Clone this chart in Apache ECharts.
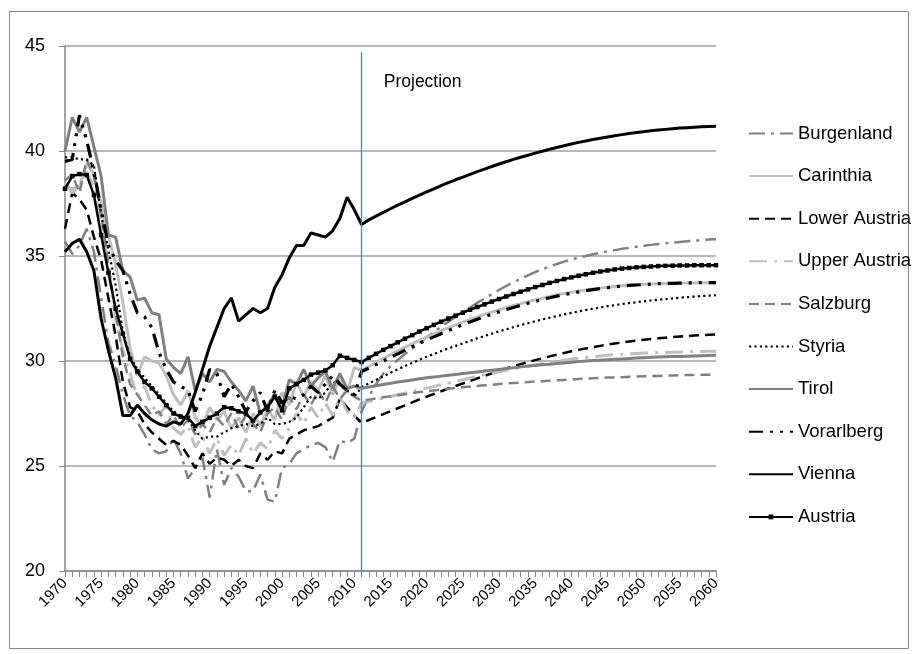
<!DOCTYPE html>
<html>
<head>
<meta charset="utf-8">
<script src="https://cdn.jsdelivr.net/npm/echarts@6/dist/echarts.min.js"></script>
<style>
html,body{margin:0;padding:0;background:#fff;}
#chart{width:916px;height:654px;}
</style>
</head>
<body>
<div id="chart"></div>
<script>
const years = Array.from({length: 91}, (_, i) => String(1970 + i));
const yTicks = [20, 25, 30, 35, 40, 45];
const projectionYear = '2011';
const projectionLabel = 'Projection';

const burgenlandHist = [35.7,35.1,35.5,36.3,35.2,33.0,30.9,29.8,28.4,27.4, 27.1,26.5,25.8,25.6,25.7,26.3,25.6,24.4,24.9,25.4, 23.5,25.8,24.1,24.9,24.5,23.8,23.8,24.6,23.4,23.3, 24.9,25.1,25.6,25.8,26.0,26.1,25.9,25.2,26.2,26.1, 26.3,27.6];
const burgenlandProj = [28.3,28.9,29.4,29.75,30.05,30.33,30.6,30.87,31.13,31.38, 31.63,31.87,32.1,32.33,32.55,32.77,32.98,33.18,33.38,33.57, 33.75,33.92,34.08,34.23,34.37,34.5,34.62,34.73,34.83,34.92, 35.0,35.08,35.15,35.22,35.28,35.34,35.39,35.44,35.49,35.53, 35.57,35.61,35.64,35.67,35.7,35.73,35.75,35.78,35.8];

const carinthiaHist = [38.3,38.2,38.3,39.4,38.9,37.5,36.0,34.6,32.8,30.6, 29.3,30.2,30.0,29.9,29.3,28.4,27.9,28.6,27.3,26.9, 27.8,27.2,27.6,26.8,27.3,26.6,27.5,26.9,27.7,27.2, 28.5,27.9,29.0,28.3,29.0,28.6,29.3,28.4,29.2,28.5, 29.7,29.55];
const carinthiaProj = [29.74,29.93,30.12,30.3,30.48,30.65,30.82,30.98,31.14,31.29, 31.44,31.58,31.72,31.85,31.98,32.1,32.22,32.33,32.44,32.54, 32.64,32.73,32.82,32.91,32.99,33.07,33.14,33.21,33.27,33.33, 33.38,33.43,33.47,33.51,33.55,33.58,33.61,33.63,33.65,33.67, 33.68,33.69,33.7,33.71,33.72,33.72,33.73,33.73,33.73];

const lowerAustriaHist = [36.3,38.0,37.7,37.2,35.9,34.8,33.0,31.2,29.0,27.8, 27.6,27.0,26.6,26.3,26.0,26.2,26.0,25.5,24.9,25.6, 25.1,25.4,25.3,25.0,25.3,25.0,24.9,25.6,25.3,25.7, 25.6,26.3,26.5,26.7,26.8,26.9,27.1,27.3,28.2,27.8, 27.4,27.05];
const lowerAustriaProj = [27.19,27.33,27.47,27.61,27.75,27.89,28.03,28.17,28.3,28.43, 28.56,28.69,28.81,28.93,29.05,29.17,29.29,29.41,29.53,29.65, 29.75,29.85,29.95,30.04,30.13,30.22,30.3,30.38,30.46,30.53, 30.6,30.66,30.72,30.78,30.83,30.88,30.93,30.97,31.01,31.05, 31.08,31.11,31.14,31.17,31.19,31.21,31.23,31.25,31.27];

const upperAustriaHist = [38.5,38.0,38.3,39.0,38.3,36.5,34.5,32.0,30.5,29.4, 28.3,28.8,27.9,27.4,27.9,26.8,26.5,26.9,25.9,26.4, 25.6,26.3,25.5,26.0,25.5,26.3,25.6,26.1,25.8,26.7, 26.3,26.8,27.5,27.0,27.8,27.3,28.0,27.4,28.3,27.6, 27.3,28.0];
const upperAustriaProj = [28.07,28.15,28.23,28.31,28.39,28.47,28.55,28.63,28.71,28.79, 28.87,28.95,29.03,29.11,29.19,29.27,29.35,29.42,29.49,29.56, 29.63,29.7,29.76,29.82,29.88,29.94,29.99,30.04,30.09,30.13, 30.17,30.21,30.24,30.27,30.3,30.32,30.34,30.36,30.38,30.39, 30.4,30.41,30.42,30.43,30.44,30.45,30.45,30.46,30.46];

const salzburgHist = [38.6,38.9,38.0,39.6,38.8,37.0,34.6,32.3,30.2,28.9, 28.4,27.9,27.4,27.6,27.0,27.4,26.8,27.2,26.5,27.0, 26.6,27.3,26.9,27.5,26.8,27.4,27.0,26.6,27.5,27.8, 27.2,28.3,27.7,28.4,27.9,28.6,28.0,28.8,28.2,28.6, 28.3,28.1];
const salzburgProj = [28.16,28.22,28.27,28.32,28.37,28.42,28.47,28.52,28.56,28.6, 28.64,28.68,28.72,28.75,28.78,28.81,28.84,28.87,28.9,28.93, 28.95,28.97,29.0,29.02,29.04,29.06,29.08,29.1,29.12,29.14, 29.16,29.18,29.19,29.21,29.22,29.23,29.25,29.26,29.27,29.28, 29.29,29.3,29.31,29.32,29.33,29.33,29.34,29.34,29.35];

const styriaHist = [39.7,39.7,39.6,39.6,39.3,37.0,35.3,33.6,31.4,30.2, 29.6,29.2,28.8,28.4,28.0,27.6,27.4,27.2,26.7,26.3, 26.4,26.4,26.6,26.8,26.9,27.0,26.9,27.0,27.3,27.0, 27.0,27.1,27.3,27.8,28.3,28.2,28.5,29.0,28.9,28.6, 28.3,28.75];
const styriaProj = [28.93,29.1,29.27,29.44,29.6,29.76,29.91,30.06,30.2,30.34, 30.47,30.6,30.72,30.84,30.96,31.08,31.19,31.3,31.41,31.51, 31.61,31.71,31.8,31.89,31.98,32.06,32.14,32.22,32.29,32.36, 32.43,32.49,32.55,32.61,32.66,32.71,32.76,32.8,32.84,32.88, 32.92,32.95,32.98,33.01,33.04,33.07,33.09,33.11,33.13];

const tirolHist = [40.0,41.6,40.9,41.6,40.2,38.8,36.0,35.9,34.3,34.0, 32.9,33.0,32.3,32.2,30.1,29.7,29.4,30.2,28.6,29.4, 29.0,29.6,29.5,29.0,28.6,28.1,28.8,27.5,27.9,28.4, 27.8,29.1,28.9,29.6,28.8,29.2,29.5,28.7,29.4,28.7, 28.8,28.7];
const tirolProj = [28.76,28.82,28.88,28.94,29.0,29.05,29.1,29.15,29.2,29.24, 29.28,29.32,29.36,29.4,29.44,29.48,29.52,29.56,29.6,29.64, 29.68,29.72,29.76,29.79,29.82,29.85,29.88,29.91,29.94,29.97, 30.0,30.02,30.04,30.06,30.08,30.1,30.12,30.14,30.16,30.18, 30.19,30.2,30.21,30.22,30.23,30.24,30.25,30.26,30.27];

const vorarlbergHist = [39.5,39.6,41.7,40.5,39.0,37.2,35.5,34.8,34.3,33.2, 32.3,32.1,31.6,30.4,29.6,29.0,28.8,28.6,27.6,28.4, 29.6,29.4,28.3,28.9,28.3,27.6,28.1,28.5,27.6,28.6, 28.0,28.3,28.2,28.4,28.8,28.5,28.9,29.3,28.9,28.6, 28.4,29.5];
const vorarlbergProj = [29.66,29.83,30.0,30.17,30.34,30.51,30.68,30.84,31.0,31.15, 31.3,31.45,31.59,31.73,31.86,31.99,32.11,32.23,32.34,32.45, 32.55,32.65,32.75,32.84,32.93,33.01,33.09,33.16,33.23,33.29, 33.35,33.4,33.45,33.49,33.53,33.57,33.6,33.62,33.64,33.66, 33.68,33.69,33.7,33.71,33.72,33.72,33.73,33.73,33.73];

const viennaHist = [35.2,35.6,35.8,35.2,34.3,32.0,30.5,29.2,27.4,27.4, 27.9,27.5,27.2,27.0,26.9,27.1,27.0,27.5,28.5,29.6, 30.7,31.6,32.5,33.0,31.9,32.2,32.5,32.3,32.5,33.5, 34.1,34.9,35.5,35.5,36.1,36.0,35.9,36.2,36.8,37.8, 37.2,36.5];
const viennaProj = [36.72,36.9,37.08,37.25,37.42,37.58,37.74,37.9,38.05,38.2, 38.35,38.49,38.63,38.76,38.89,39.02,39.14,39.26,39.38,39.49, 39.6,39.7,39.8,39.9,39.99,40.08,40.17,40.25,40.33,40.41, 40.48,40.55,40.61,40.67,40.73,40.78,40.83,40.88,40.92,40.96, 41.0,41.03,41.06,41.09,41.11,41.13,41.15,41.17,41.18];

const austriaHist = [38.2,38.8,38.9,38.85,37.9,36.0,34.2,32.5,31.3,30.1, 29.5,29.0,28.7,28.3,27.9,27.5,27.35,27.3,26.9,27.1, 27.3,27.5,27.8,27.75,27.6,27.5,27.15,27.55,27.8,28.3, 27.65,28.7,28.9,29.1,29.35,29.45,29.55,29.8,30.25,30.15, 30.05,29.95];
const austriaProj = [30.15,30.34,30.53,30.71,30.89,31.06,31.23,31.4,31.56,31.72, 31.87,32.02,32.16,32.3,32.44,32.57,32.7,32.83,32.95,33.07, 33.19,33.3,33.41,33.52,33.62,33.72,33.81,33.9,33.98,34.06, 34.13,34.2,34.26,34.31,34.36,34.4,34.43,34.46,34.48,34.5, 34.52,34.53,34.54,34.55,34.55,34.56,34.56,34.56,34.56];

const FONT = 'Liberation Sans';
const GRAY = '#808080';
const LIGHT = '#bfbfbf';
const BLACK = '#000000';
const BLUE = '#4f81bd';

function mk(name, hist, proj, color, width, dash, extra) {
  return Object.assign({
    name: name,
    type: 'line',
    data: hist.concat(proj),
    symbol: 'none',
    smooth: false,
    color: color,
    lineStyle: { color: color, width: width, type: dash, cap: 'butt' },
    emphasis: { disabled: true },
    animation: false
  }, extra || {});
}

const series = [
  mk('Burgenland', burgenlandHist, burgenlandProj, GRAY, 2.5, [16, 6, 3, 6], {
    markLine: {
      silent: true,
      symbol: ['none', 'none'],
      label: { show: false },
      lineStyle: { color: BLUE, width: 1.3, type: 'solid', opacity: 1 },
      emphasis: { disabled: true },
      animation: false,
      data: [[
        { coord: [projectionYear, 44.7], lineStyle: { color: BLUE } },
        { coord: [projectionYear, 20], lineStyle: { color: BLUE } }
      ]]
    }
  }),
  mk('Carinthia', carinthiaHist, carinthiaProj, LIGHT, 3, 'solid'),
  mk('Lower Austria', lowerAustriaHist, lowerAustriaProj, BLACK, 2.5, [10, 6]),
  mk('Upper Austria', upperAustriaHist, upperAustriaProj, LIGHT, 3, [18, 7, 3, 7]),
  mk('Salzburg', salzburgHist, salzburgProj, GRAY, 2.5, [10, 6]),
  mk('Styria', styriaHist, styriaProj, BLACK, 2.2, [2.2, 3.2]),
  mk('Tirol', tirolHist, tirolProj, GRAY, 3, 'solid'),
  mk('Vorarlberg', vorarlbergHist, vorarlbergProj, BLACK, 3.2, [14, 7, 3, 7, 3, 7]),
  mk('Vienna', viennaHist, viennaProj, BLACK, 3, 'solid', {
    markPoint: {
      silent: true,
      symbol: 'rect',
      symbolSize: 1,
      itemStyle: { color: 'rgba(0,0,0,0)' },
      label: {
        show: true,
        formatter: projectionLabel,
        position: 'right',
        distance: 0,
        color: '#000',
        fontFamily: FONT,
        fontSize: 17.5
      },
      data: [{ coord: ['2014', 43.3] }]
    }
  }),
  mk('Austria', austriaHist, austriaProj, BLACK, 2.5, 'solid', {
    symbol: 'rect',
    symbolSize: 4.5,
    showSymbol: true,
    showAllSymbol: true,
    itemStyle: { color: BLACK }
  })
];

const legendData = series.map(s => s.name === 'Austria'
  ? { name: s.name, itemStyle: { opacity: 1 } }
  : { name: s.name });

const chart = echarts.init(document.getElementById('chart'), null, { renderer: 'canvas' });
chart.setOption({
  backgroundColor: '#ffffff',
  animation: false,
  graphic: [{
    type: 'rect',
    shape: { x: 9.5, y: 11.5, width: 899, height: 637 },
    style: { fill: 'none', stroke: '#868686', lineWidth: 1 },
    silent: true,
    z: -10
  }],
  grid: { left: 65, right: 200, top: 46, bottom: 83, containLabel: false },
  legend: {
    orient: 'vertical',
    left: 743,
    top: 119,
    itemWidth: 44,
    itemHeight: 6,
    itemGap: 23.6,
    selectedMode: false,
    itemStyle: { opacity: 0 },
    textStyle: { fontFamily: FONT, fontSize: 18.5, color: '#000' },
    data: legendData
  },
  xAxis: {
    type: 'category',
    data: years,
    boundaryGap: false,
    axisLine: { lineStyle: { color: '#868686', width: 1.5 } },
    axisTick: { show: true, interval: 0, length: 6, lineStyle: { color: '#868686', width: 1 } },
    axisLabel: {
      interval: 4,
      rotate: 45,
      margin: 10,
      color: '#000',
      fontFamily: FONT,
      fontSize: 15
    },
    splitLine: { show: false }
  },
  yAxis: {
    type: 'value',
    min: yTicks[0],
    max: yTicks[yTicks.length - 1],
    interval: 5,
    axisLine: { show: true, lineStyle: { color: '#868686', width: 1.5 } },
    axisTick: { show: true, length: 6, lineStyle: { color: '#868686', width: 1 } },
    axisLabel: { margin: 20, color: '#000', fontFamily: FONT, fontSize: 18 },
    splitLine: { show: true, lineStyle: { color: '#a0a0a0', width: 1.5 } }
  },
  series: series
});
</script>
</body>
</html>
